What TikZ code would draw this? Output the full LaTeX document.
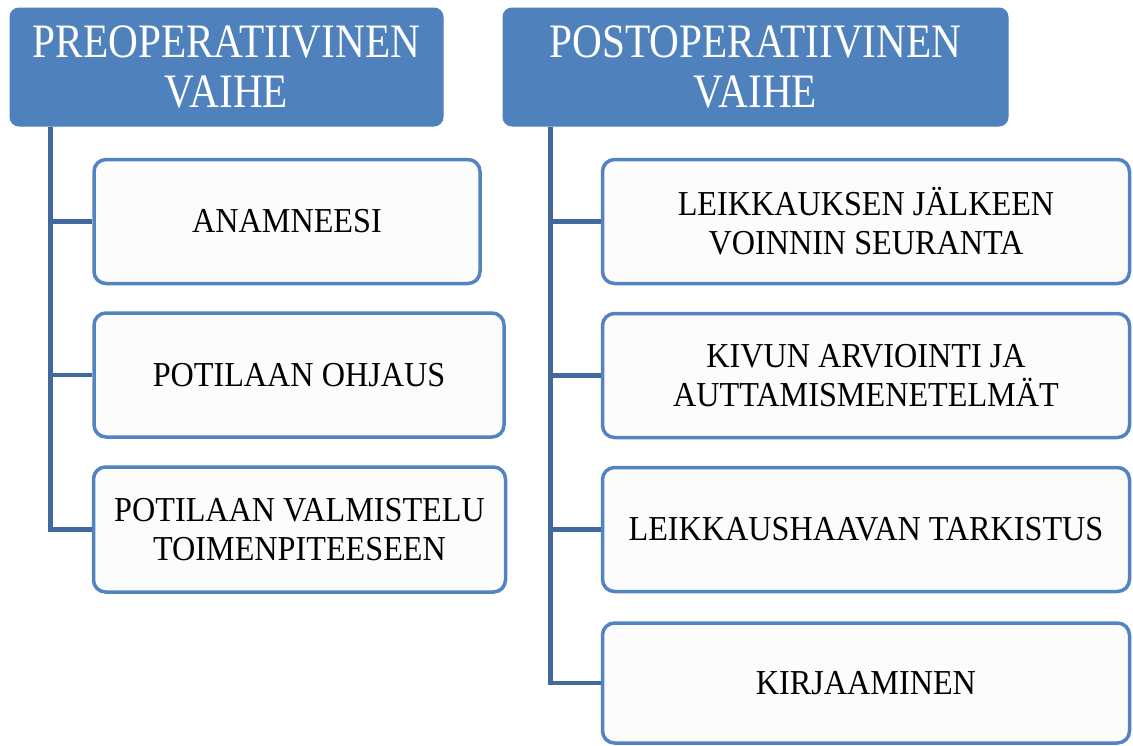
\documentclass[tikz,border=0pt]{standalone}
\usepackage{fontspec}
\setmainfont{Liberation Serif}
\newfontfamily\headfont{Liberation Serif}[FakeStretch=0.86]
\newfontfamily\itemfont{Liberation Serif}[FakeStretch=0.92]
\usepackage{xcolor}
\usetikzlibrary{calc}
\definecolor{headblue}{HTML}{4F81BD}
\definecolor{edgeblue}{HTML}{5284C2}
\definecolor{lineblue}{HTML}{41699E}
\definecolor{boxfill}{HTML}{FCFCFC}

\begin{document}
\begin{tikzpicture}[x=1pt,y=-1pt,
        headbox/.style={rectangle,rounded corners=9pt,fill=headblue,draw=headblue,line width=1pt,text=white,align=center,inner sep=0pt,font=\headfont\fontsize{48}{50}\selectfont},
        itembox/.style={rectangle,rounded corners=12pt,fill=boxfill,draw=edgeblue,line width=3.5pt,align=center,inner sep=0pt,font=\itemfont\fontsize{35}{39}\selectfont},
        branch/.style={draw=lineblue,line width=4.5pt}]
        \useasboundingbox (0,0) rectangle (1133,745);

        %%% HEADERS %%%
        \node[headbox,minimum width=433pt,minimum height=118pt] (pre) at (226.5,67) {PREOPERATIIVINEN\\VAIHE};
        \node[headbox,minimum width=505pt,minimum height=118pt] (post) at (755.5,67) {POSTOPERATIIVINEN\\VAIHE};

        %%% BOXES %%%
        \node[itembox,minimum width=386pt,minimum height=124pt] (anam) at (287,221.5) {ANAMNEESI};
        \node[itembox,minimum width=410pt,minimum height=124pt] (ohjaus) at (299,375) {POTILAAN OHJAUS};
        \node[itembox,minimum width=412pt,minimum height=125pt] (valm) at (299.5,529.5) {POTILAAN VALMISTELU\\TOIMENPITEESEEN};

        \node[itembox,minimum width=527pt,minimum height=124pt] (seur) at (866,221.5) {LEIKKAUKSEN JÄLKEEN\\VOINNIN SEURANTA};
        \node[itembox,minimum width=527pt,minimum height=124pt] (kipu) at (866,375.5) {KIVUN ARVIOINTI JA\\AUTTAMISMENETELMÄT};
        \node[itembox,minimum width=527pt,minimum height=124pt] (haava) at (866,529.5) {LEIKKAUSHAAVAN TARKISTUS};
        \node[itembox,minimum width=527pt,minimum height=120pt] (kirj) at (866,683) {KIRJAAMINEN};

        %%% COORDINATES %%%
        \coordinate (preroot) at ($(pre.south west)+(41,0)$);
        \coordinate (postroot) at ($(post.south west)+(48,0)$);

        %%% LINES %%%
        \draw[branch] (preroot) |- (valm.west);
        \draw[branch] (preroot |- anam.west) -- (anam.west);
        \draw[branch] (preroot |- ohjaus.west) -- (ohjaus.west);

        \draw[branch] (postroot) |- (kirj.west);
        \draw[branch] (postroot |- seur.west) -- (seur.west);
        \draw[branch] (postroot |- kipu.west) -- (kipu.west);
        \draw[branch] (postroot |- haava.west) -- (haava.west);
\end{tikzpicture}
\end{document}
